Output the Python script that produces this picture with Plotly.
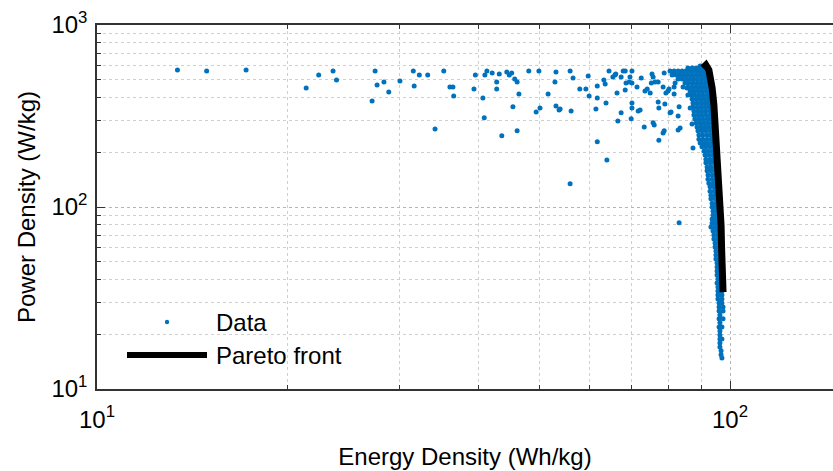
import plotly.graph_objects as go

# ---------------- data ----------------
# isolated design points (Energy Density Wh/kg, Power Density W/kg)
scatter_x = [13.4, 14.9, 17.2, 21.4, 22.4, 23.6, 23.9, 27.5, 27.7, 27.2,
             28.4, 28.9, 30.1, 31.6, 31.7, 32.3, 33.3, 34.2, 35.3, 36.1,
             36.5, 36.6, 39.6, 39.4, 40.7, 40.9, 41.0, 41.3, 42.1, 42.8,
             42.8, 43.2, 43.6, 44.4, 44.8, 45.2, 45.7, 46.1, 45.4, 46.1,
             46.4, 48.1, 49.4, 49.9, 50.1, 51.6, 53.1, 52.9, 53.1, 53.7,
             55.9, 56.5, 56.1, 55.9, 57.9, 59.2, 59.7, 59.9, 61.4, 61.7,
             61.7, 61.7, 63.2, 63.5, 63.7, 63.9, 64.4, 65.3, 65.8, 66.0,
             66.3, 66.5, 67.3, 67.3, 67.8, 68.3, 68.5, 68.3, 69.3, 69.5,
             69.8, 70.0, 70.0, 70.0, 70.0, 71.3, 71.6, 72.1, 72.4, 73.2,
             73.4, 74.0, 74.8, 75.1, 75.3, 75.6, 75.6, 75.9, 76.1, 77.0,
             77.0, 77.2, 77.2, 78.4, 78.7, 78.7, 78.4, 78.9, 79.2, 80.1,
             80.4, 81.0, 81.3, 81.6, 81.6, 81.9, 82.8, 82.8, 82.5, 83.1,
             83.4, 84.3, 85.5, 85.8, 86.5, 87.1, 87.4, 83.1, 80.7, 79.8,
             53.9]
scatter_y = [566, 559, 566, 451, 531, 559, 499, 559, 468, 382,
             486, 429, 492, 559, 462, 531, 531, 268, 559, 456,
             456, 407, 531, 445, 397, 309, 531, 559, 545, 486,
             445, 538, 246, 552, 531, 545, 505, 486, 355, 262,
             418, 559, 333, 559, 350, 418, 552, 486, 359, 341,
             559, 511, 337, 134, 445, 445, 524, 407, 346, 462,
             397, 228, 499, 474, 373, 181, 559, 518, 531, 538,
             423, 297, 518, 329, 559, 559, 480, 440, 486, 518,
             305, 559, 480, 373, 350, 456, 337, 341, 511, 275,
             434, 445, 423, 480, 538, 518, 290, 282, 486, 486,
             378, 350, 233, 255, 262, 545, 456, 368, 423, 445,
             329, 552, 545, 456, 418, 480, 316, 265, 545, 82.0,
             272, 456, 451, 413, 350, 286, 211, 355, 333, 434,
             346]

# dense cloud of designs near the front: one power level per row, with the energy values in that row
cloud_row_y = [595, 580, 559, 531, 505, 480, 456, 434, 413, 392,
               373, 354, 337, 320, 304, 289, 275, 262, 249, 236,
               225, 214, 203, 193, 183, 175, 166, 158, 150, 142,
               135, 129, 122, 116, 111, 105, 100, 95.1, 90.4, 85.9,
               81.7, 77.7, 73.8, 70.2, 66.7, 63.4, 60.3, 57.3, 54.5, 51.8,
               49.2, 46.8, 44.5, 42.3, 40.2, 38.2, 36.3, 34.5, 32.8, 31.2,
               29.7, 28.2, 26.8, 25.5, 24.3, 23.1, 21.9, 20.8, 19.8, 18.8,
               17.9, 17.0, 16.2, 15.4, 14.8]
cloud_row_x = [
    [89.7, 91.0],
    [85.8, 87.1, 88.4, 89.7, 91.0],
    [80.4, 81.6, 82.8, 84.0, 85.2, 86.5, 87.7, 89.0, 90.3, 91.6],
    [81.0, 82.2, 83.4, 84.6, 85.8, 87.1, 88.4, 89.7, 91.0, 92.3],
    [82.8, 84.0, 85.2, 86.5, 87.7, 89.0, 90.3, 91.6, 92.6],
    [84.9, 86.1, 87.4, 88.7, 90.0, 91.3, 92.6],
    [85.8, 87.1, 88.4, 89.7, 91.0, 92.3, 93.3],
    [86.5, 87.7, 89.0, 90.3, 91.6, 93.0],
    [86.8, 88.0, 89.3, 90.6, 92.0, 93.3],
    [87.1, 88.4, 89.7, 91.0, 92.3, 93.7],
    [87.4, 88.7, 90.0, 91.3, 92.6, 93.7],
    [87.4, 88.7, 90.0, 91.3, 92.6, 94.0],
    [87.7, 89.0, 90.3, 91.6, 93.0, 94.0],
    [87.7, 89.0, 90.3, 91.6, 93.0, 94.3],
    [88.0, 89.3, 90.6, 92.0, 93.3, 94.3],
    [88.4, 89.7, 91.0, 92.3, 93.7, 94.3],
    [88.7, 90.0, 91.3, 92.6, 94.0],
    [89.0, 90.3, 91.6, 93.0, 94.3],
    [89.3, 90.6, 92.0, 93.3, 94.7],
    [89.3, 90.6, 92.0, 93.3, 94.7],
    [89.7, 91.0, 92.3, 93.7, 95.0],
    [90.3, 91.6, 93.0, 94.3],
    [91.0, 92.3, 93.7, 95.0],
    [91.3, 92.6, 94.0, 95.0],
    [91.6, 93.0, 94.3],
    [91.6, 93.0, 94.3, 95.4],
    [92.0, 93.3, 94.7],
    [92.0, 93.3, 94.7],
    [92.3, 93.7, 95.0],
    [92.3, 93.7, 95.0],
    [92.6, 94.0, 95.4],
    [93.0, 94.3, 95.4],
    [93.0, 94.3, 95.7],
    [93.3, 94.7, 95.7],
    [93.3, 94.7, 95.7],
    [93.7, 95.0, 96.1],
    [93.7, 95.0, 96.1],
    [94.0, 95.4],
    [94.0, 95.4],
    [93.7, 95.0, 96.1],
    [93.7, 95.0, 96.1],
    [93.3, 94.7, 96.1],
    [94.0, 95.4, 96.4],
    [94.3, 95.7],
    [94.3, 95.7],
    [94.7, 96.1],
    [94.7, 96.1],
    [95.0, 96.4],
    [95.0, 96.4],
    [95.0, 96.4],
    [95.4, 96.8],
    [95.4, 96.8],
    [95.4, 96.8],
    [95.4, 96.8],
    [95.7, 96.8],
    [95.4, 96.8],
    [95.7, 97.1],
    [95.7, 97.1],
    [95.7, 97.1],
    [95.7, 97.1],
    [96.1, 97.1],
    [96.1, 97.5],
    [96.1, 97.5],
    [96.4],
    [96.1, 97.5],
    [96.4],
    [96.1, 97.1],
    [96.4],
    [96.4],
    [96.4, 97.1],
    [96.4],
    [96.4],
    [96.8],
    [96.8],
    [97.1],
]

# Pareto front
pareto_x = [90.6, 91.6, 92.6, 93.3, 93.7, 94.3, 94.7, 95.4, 95.7, 96.4, 96.8, 97.0, 97.1, 97.5]
pareto_y = [580, 602, 566, 511, 451, 364, 293, 203, 150, 109, 79.6, 58.1, 45.1, 34.1]

# ticks
x_tick_vals = [10, 100]
x_tick_text = ["10<sup>1</sup>", "10<sup>2</sup>"]
y_tick_vals = [10, 100, 1000]
y_tick_text = ["10<sup>1</sup>", "10<sup>2</sup>", "10<sup>3</sup>"]
x_minor_vals = [20, 30, 40, 50, 60, 70, 80, 90]
y_minor_vals = [20, 30, 40, 50, 60, 70, 80, 90, 200, 300, 400, 500, 600, 700, 800, 900]

legend_labels = ["Data", "Pareto front"]

# ---------------- figure ----------------
data_x = list(scatter_x)
data_y = list(scatter_y)
for yv, row in zip(cloud_row_y, cloud_row_x):
    for xv in row:
        data_x.append(xv)
        data_y.append(yv)

BLUE = "#0072BD"
FONT = "Liberation Sans, Arial, sans-serif"
AX = "#333333"

fig = go.Figure()
fig.add_trace(go.Scatter(x=data_x, y=data_y, mode="markers",
                         marker=dict(color=BLUE, size=5, line=dict(width=0)),
                         name=legend_labels[0], showlegend=False))
fig.add_trace(go.Scatter(x=pareto_x, y=pareto_y, mode="lines",
                         line=dict(color="black", width=7),
                         name=legend_labels[1], showlegend=False))

common = dict(type="log", showline=True, linecolor=AX, linewidth=1.5,
              ticks="inside", ticklen=8, tickwidth=1.2, tickcolor=AX,
              showgrid=True, gridcolor="#b5b5b5", griddash="dot", gridwidth=1,
              zeroline=False, tickfont=dict(family=FONT, size=24, color="black"))

fig.update_xaxes(range=[1, 2.1627], tickmode="array", tickvals=x_tick_vals, ticktext=x_tick_text,
                 mirror="ticks", ticklabelstandoff=8,
                 minor=dict(tickmode="array", tickvals=x_minor_vals, ticks="inside", ticklen=4,
                            tickcolor=AX, showgrid=True, gridcolor="#cfcfcf", griddash="dot"),
                 title=dict(text="Energy Density (Wh/kg)", font=dict(family=FONT, size=24, color="black"),
                            standoff=17),
                 **common)
fig.update_yaxes(range=[1, 3], tickmode="array", tickvals=y_tick_vals, ticktext=y_tick_text,
                 mirror=False, ticklabelstandoff=3,
                 minor=dict(tickmode="array", tickvals=y_minor_vals, ticks="inside", ticklen=4,
                            tickcolor=AX, showgrid=True, gridcolor="#cfcfcf", griddash="dot"),
                 title=dict(text="Power Density (W/kg)", font=dict(family=FONT, size=24, color="black"),
                            standoff=9),
                 **common)

# legend drawn in paper space (bottom-left, no box)
W, H = 833, 471
L, R, T, B = 97, 0, 25, 82
def px_x(p):
    return (p - L) / (W - L - R)
def px_y(p):
    return (H - B - p) / (H - T - B)

fig.add_shape(type="circle", xref="paper", yref="paper", xsizemode="pixel", ysizemode="pixel",
              xanchor=px_x(167), yanchor=px_y(322), x0=-2.2, x1=2.2, y0=-2.2, y1=2.2,
              fillcolor=BLUE, line=dict(width=0))
fig.add_shape(type="line", xref="paper", yref="paper",
              x0=px_x(127), x1=px_x(207), y0=px_y(355), y1=px_y(355),
              line=dict(color="black", width=6))
fig.add_annotation(xref="paper", yref="paper", x=px_x(214), y=px_y(322), text=legend_labels[0],
                   showarrow=False, xanchor="left", yanchor="middle",
                   font=dict(family=FONT, size=24, color="black"))
fig.add_annotation(xref="paper", yref="paper", x=px_x(214), y=px_y(355), text=legend_labels[1],
                   showarrow=False, xanchor="left", yanchor="middle",
                   font=dict(family=FONT, size=24, color="black"))

fig.update_layout(width=W, height=H, autosize=False,
                  margin=dict(l=L, r=R, t=T, b=B, pad=0),
                  paper_bgcolor="white", plot_bgcolor="white",
                  font=dict(family=FONT, size=24, color="black"),
                  showlegend=False)

fig.write_html("out.html")
